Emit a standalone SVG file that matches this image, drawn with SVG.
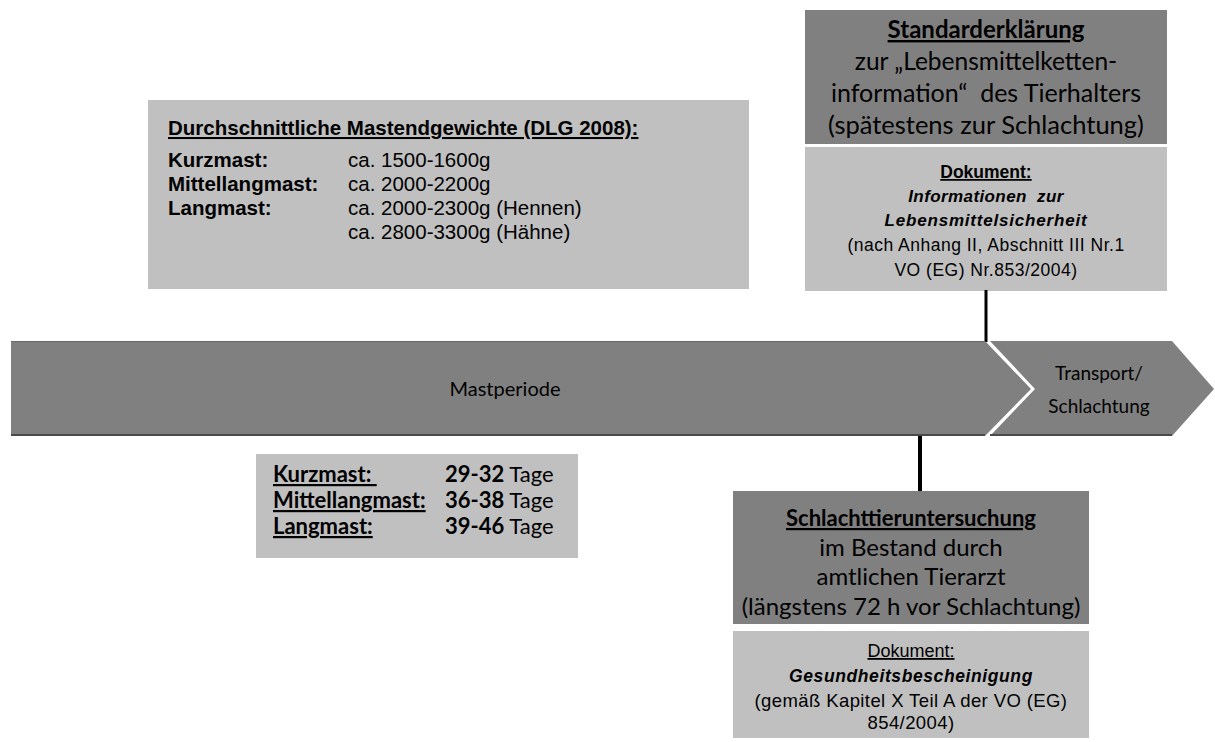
<svg xmlns="http://www.w3.org/2000/svg" width="1215" height="742" viewBox="0 0 1215 742">
<style>
.light{fill:#c0c0c0}
.dark{fill:#808080}
.ar{font-family:"Liberation Sans",Arial,sans-serif;fill:#000}
.cal{font-family:Lato,"Liberation Sans",sans-serif;fill:#000}
.b{font-weight:bold}
.i{font-style:italic}
.u{text-decoration:underline}
.mid{text-anchor:middle}
.conn{stroke:#000;fill:none}
</style>
<rect width="1215" height="742" fill="#fff"/>
<g id="weights">
<rect class="light" x="148" y="100" width="601" height="189"/>
<text class="ar b u" x="168" y="135" font-size="20.5">Durchschnittliche Mastendgewichte (DLG 2008):</text>
<text class="ar b" x="168" y="167" font-size="20.5">Kurzmast:</text>
<text class="ar b" x="168" y="191" font-size="20.5">Mittellangmast:</text>
<text class="ar b" x="168" y="215" font-size="20.5">Langmast:</text>
<text class="ar" x="348" y="167" font-size="20.5">ca. 1500-1600g</text>
<text class="ar" x="348" y="191" font-size="20.5">ca. 2000-2200g</text>
<text class="ar" x="348" y="215" font-size="20.5">ca. 2000-2300g (Hennen)</text>
<text class="ar" x="348" y="239" font-size="20.5">ca. 2800-3300g (Hähne)</text>
</g>
<g id="standard">
<rect class="dark" x="805" y="10" width="362" height="134"/>
<text class="cal b u mid" x="986" y="38" font-size="24">Standarderklärung</text>
<text class="cal mid" x="986" y="70" font-size="24.5">zur „Lebensmittelketten-</text>
<text class="cal mid" x="986" y="102" font-size="25" xml:space="preserve">information“  des Tierhalters</text>
<text class="cal mid" x="986" y="134" font-size="25.5">(spätestens zur Schlachtung)</text>
</g>
<g id="doc1">
<rect class="light" x="805" y="147" width="362" height="144"/>
<text class="ar b u mid" x="986" y="178" font-size="17.5">Dokument:</text>
<text class="ar b i mid" x="986" y="202" font-size="17" letter-spacing="0.4" xml:space="preserve">Informationen  zur</text>
<text class="ar b i mid" x="986" y="226" font-size="17" letter-spacing="0.8">Lebensmittelsicherheit</text>
<text class="ar mid" x="986" y="251" font-size="17.5" letter-spacing="0.5">(nach Anhang II, Abschnitt III Nr.1</text>
<text class="ar mid" x="986" y="276" font-size="17.5" letter-spacing="0.5">VO (EG) Nr.853/2004)</text>
</g>
<g id="connectors">
<line class="conn" x1="986" y1="290" x2="986" y2="342" stroke-width="3"/>
<line class="conn" x1="920" y1="436" x2="920" y2="491" stroke-width="4"/>
</g>
<g id="mastperiode">
<polygon class="dark" points="11,341 985,341 1031,389 985,436 11,436"/>
<line x1="11" y1="341.5" x2="985" y2="341.5" stroke="#6a6a6a" stroke-width="1"/>
<line x1="11" y1="435" x2="985" y2="435" stroke="#4a4a4a" stroke-width="2"/>
<text class="cal mid" x="505" y="396" font-size="20" fill="#111">Mastperiode</text>
</g>
<g id="transport">
<polygon class="dark" points="990,341 1172,341 1214,389 1172,436 990,436 1035,389"/>
<line x1="990" y1="435" x2="1172" y2="435" stroke="#4a4a4a" stroke-width="2"/>
<text class="cal mid" x="1099" y="380" font-size="19" fill="#111">Transport/</text>
<text class="cal mid" x="1099" y="413" font-size="19" fill="#111">Schlachtung</text>
</g>
<g id="dauer">
<rect class="light" x="256" y="454" width="322" height="104"/>
<text class="cal b u" x="273" y="482" font-size="22" xml:space="preserve">Kurzmast: </text>
<text class="cal b u" x="273" y="508" font-size="22">Mittellangmast:</text>
<text class="cal b u" x="273" y="534" font-size="22">Langmast:</text>
<text class="cal" x="445" y="482" font-size="22"><tspan class="b">29-32</tspan> Tage</text>
<text class="cal" x="445" y="508" font-size="22"><tspan class="b">36-38</tspan> Tage</text>
<text class="cal" x="445" y="534" font-size="22"><tspan class="b">39-46</tspan> Tage</text>
</g>
<g id="stu">
<rect class="dark" x="733" y="491" width="356" height="133"/>
<text class="cal b u mid" x="911" y="526" font-size="22">Schlachttieruntersuchung</text>
<text class="cal mid" x="911" y="556" font-size="24">im Bestand durch</text>
<text class="cal mid" x="911" y="585" font-size="24">amtlichen Tierarzt</text>
<text class="cal mid" x="911" y="615" font-size="24">(längstens 72 h vor Schlachtung)</text>
</g>
<g id="doc2">
<rect class="light" x="733" y="631" width="356" height="107"/>
<text class="ar u mid" x="911" y="657" font-size="18">Dokument:</text>
<text class="ar b i mid" x="911" y="682" font-size="17.5" letter-spacing="0.6">Gesundheitsbescheinigung</text>
<text class="ar mid" x="911" y="707" font-size="18.5" letter-spacing="0.4">(gemäß Kapitel X Teil A der VO (EG)</text>
<text class="ar mid" x="911" y="729" font-size="18.5" letter-spacing="0.4">854/2004)</text>
</g>
</svg>
